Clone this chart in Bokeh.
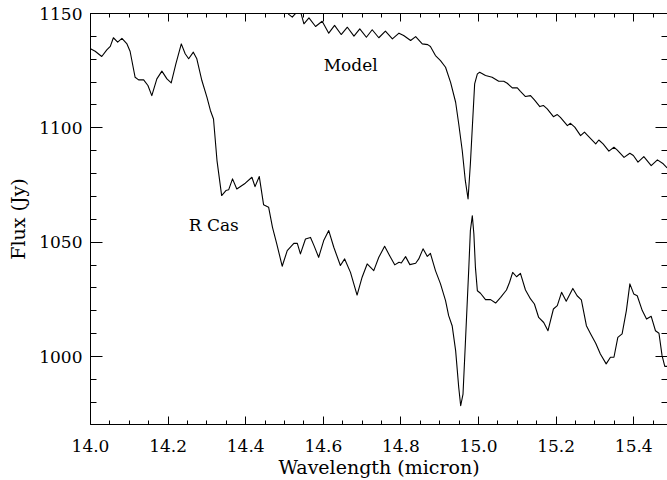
from bokeh.plotting import figure
from bokeh.models import LinearAxis, Range1d, SingleIntervalTicker, PrintfTickFormatter, CustomJSTickFormatter
from bokeh.core.properties import value
from bokeh.embed import file_html
from bokeh.resources import INLINE

# ---- data ----
rcas_wl = [14.000, 14.012, 14.029, 14.042, 14.051, 14.059, 14.070, 14.081, 14.094, 14.102,
           14.115, 14.124, 14.137, 14.148, 14.158, 14.171, 14.184, 14.197, 14.208, 14.220,
           14.234, 14.244, 14.253, 14.265, 14.274, 14.287, 14.300, 14.309, 14.317, 14.326,
           14.338, 14.349, 14.356, 14.366, 14.377, 14.399, 14.416, 14.424, 14.435, 14.446,
           14.459, 14.469, 14.480, 14.494, 14.507, 14.524, 14.533, 14.541, 14.554, 14.567,
           14.576, 14.588, 14.601, 14.614, 14.627, 14.644, 14.655, 14.670, 14.687, 14.700,
           14.713, 14.730, 14.743, 14.758, 14.771, 14.784, 14.795, 14.801, 14.812, 14.823,
           14.838, 14.846, 14.857, 14.868, 14.876, 14.889, 14.902, 14.915, 14.923, 14.932,
           14.941, 14.949, 14.954, 14.960, 14.966, 14.975, 14.979, 14.984, 14.988, 14.992,
           14.997, 15.005, 15.018, 15.031, 15.044, 15.057, 15.072, 15.080, 15.088, 15.098,
           15.108, 15.121, 15.134, 15.144, 15.155, 15.168, 15.179, 15.193, 15.203, 15.214,
           15.226, 15.243, 15.254, 15.265, 15.278, 15.289, 15.302, 15.314, 15.329, 15.340,
           15.349, 15.359, 15.370, 15.381, 15.390, 15.400, 15.409, 15.422, 15.433, 15.445,
           15.456, 15.465, 15.473, 15.480, 15.487]
rcas_flux = [1134.6, 1133.5, 1131.2, 1134.1, 1135.6, 1139.4, 1137.5, 1139.1, 1136.7, 1133.5,
             1122.1, 1121.0, 1121.0, 1118.5, 1114.1, 1121.4, 1124.8, 1121.4, 1119.7, 1128.0,
             1136.7, 1132.4, 1130.2, 1133.1, 1130.2, 1120.7, 1113.4, 1107.6, 1103.9, 1085.7,
             1070.4, 1072.6, 1072.9, 1077.7, 1073.3, 1075.8, 1078.4, 1074.3, 1078.7, 1066.4,
             1065.3, 1056.5, 1049.3, 1039.5, 1046.3, 1049.5, 1049.5, 1044.9, 1051.4, 1052.1,
             1048.5, 1043.4, 1050.7, 1055.1, 1047.8, 1039.8, 1042.7, 1036.8, 1026.9, 1034.7,
             1040.5, 1037.6, 1043.4, 1048.2, 1044.1, 1040.1, 1041.2, 1040.9, 1043.7, 1040.2,
             1040.8, 1042.7, 1047.1, 1043.8, 1045.1, 1037.6, 1031.8, 1024.5, 1017.9, 1013.5,
             1002.6, 986.5, 978.5, 983.6, 1005.5, 1039.0, 1055.1, 1061.6, 1053.6, 1039.0,
             1028.8, 1027.7, 1024.9, 1024.9, 1023.4, 1025.9, 1029.1, 1032.5, 1036.8, 1034.9,
             1036.4, 1029.1, 1025.2, 1023.0, 1017.1, 1014.9, 1011.3, 1020.8, 1022.3, 1028.1,
             1024.2, 1029.8, 1026.6, 1024.8, 1013.5, 1009.9, 1005.8, 1001.1, 996.8, 999.7,
             999.7, 1008.4, 1009.9, 1020.1, 1031.8, 1027.4, 1026.6, 1020.1, 1016.4, 1017.6,
             1011.3, 1010.2, 1000.4, 995.7, 995.7]

model_wl = [14.495, 14.511, 14.520, 14.528, 14.541, 14.550, 14.563, 14.580, 14.597, 14.614,
            14.629, 14.646, 14.662, 14.679, 14.694, 14.711, 14.726, 14.743, 14.760, 14.778,
            14.795, 14.807, 14.825, 14.838, 14.855, 14.869, 14.876, 14.889, 14.902, 14.915,
            14.928, 14.941, 14.949, 14.958, 14.966, 14.973, 14.979, 14.984, 14.990, 14.997,
            15.003, 15.018, 15.035, 15.052, 15.065, 15.074, 15.087, 15.100, 15.108, 15.121,
            15.134, 15.144, 15.158, 15.167, 15.177, 15.193, 15.203, 15.211, 15.229, 15.237,
            15.248, 15.263, 15.273, 15.284, 15.302, 15.310, 15.321, 15.336, 15.349, 15.357,
            15.375, 15.390, 15.399, 15.411, 15.426, 15.445, 15.461, 15.476, 15.486]
model_flux = [1153.5, 1149.6, 1148.4, 1149.9, 1151.0, 1145.5, 1148.1, 1144.3, 1146.6, 1141.4,
              1144.8, 1140.8, 1144.0, 1140.1, 1143.3, 1139.6, 1142.9, 1139.4, 1142.3, 1138.9,
              1141.4, 1140.4, 1138.2, 1139.9, 1136.7, 1136.4, 1135.6, 1131.6, 1129.4, 1126.5,
              1119.9, 1111.2, 1101.7, 1090.1, 1076.9, 1068.9, 1084.3, 1100.3, 1119.2, 1123.6,
              1124.3, 1122.9, 1122.1, 1120.4, 1120.4, 1119.5, 1117.5, 1117.5, 1116.0, 1113.7,
              1114.1, 1112.2, 1109.3, 1109.8, 1108.3, 1104.9, 1105.8, 1104.6, 1101.0, 1102.0,
              1100.3, 1096.6, 1098.1, 1096.2, 1093.0, 1094.7, 1093.0, 1089.8, 1091.5, 1090.4,
              1087.1, 1088.9, 1087.9, 1085.0, 1087.4, 1083.5, 1086.0, 1084.3, 1082.5]

label_text = ["Model", "R Cas"]
label_wl = [14.601, 14.253]
label_flux = [1127.6, 1057.4]

x_title = "Wavelength (micron)"
y_title = "Flux (Jy)"

FONT = "DejaVu Serif"

p = figure(width=667, height=480, output_backend="svg", toolbar_location=None,
           x_range=Range1d(14.0, 15.487), y_range=Range1d(970.3, 1150.0),
           min_border_left=90, min_border_right=0, min_border_top=13, min_border_bottom=56)
p.grid.visible = False
p.outline_line_color = None
p.background_fill_color = "white"
p.border_fill_color = "white"

xticker = SingleIntervalTicker(interval=0.2, num_minor_ticks=4)
yticker = SingleIntervalTicker(interval=50, num_minor_ticks=5)


def style(ax, tin, tmin):
    ax.axis_line_color = "black"
    ax.axis_line_width = 1
    ax.major_tick_line_color = "black"
    ax.minor_tick_line_color = "black"
    ax.major_tick_in = tin
    ax.major_tick_out = 0
    ax.minor_tick_in = tmin
    ax.minor_tick_out = 0
    ax.major_label_text_font = FONT
    ax.major_label_text_font_size = "17px"
    ax.major_label_text_color = "black"
    ax.axis_label_text_font = FONT
    ax.axis_label_text_font_size = "19px"
    ax.axis_label_text_font_style = "normal"
    ax.axis_label_text_color = "black"


xa = p.xaxis[0]
xa.ticker = xticker
xa.formatter = PrintfTickFormatter(format="%.1f")
style(xa, 8, 4)
xa.axis_label = x_title
xa.major_label_standoff = 15
xa.axis_label_standoff = 1

ya = p.yaxis[0]
ya.ticker = yticker
ya.formatter = PrintfTickFormatter(format="%d")
style(ya, 12, 6)
ya.axis_label = y_title
ya.major_label_standoff = 8
ya.axis_label_standoff = 7

blank = CustomJSTickFormatter(code="return ''")

top = LinearAxis(ticker=xticker, formatter=blank)
style(top, 8, 4)
top.major_label_standoff = 0
p.add_layout(top, "above")

right = LinearAxis(ticker=yticker, formatter=blank)
style(right, 12, 6)
right.axis_line_color = None
right.major_label_standoff = 0
p.add_layout(right, "right")

p.line(rcas_wl, rcas_flux, line_color="black", line_width=1.1, line_join="round")
p.line(model_wl, model_flux, line_color="black", line_width=1.1, line_join="round")

p.text(x=label_wl, y=label_flux, text=label_text, text_font=value(FONT),
       text_font_size="17px", text_color="black", text_align="left",
       text_baseline="middle")

open("out.html", "w").write(file_html(p, INLINE))
